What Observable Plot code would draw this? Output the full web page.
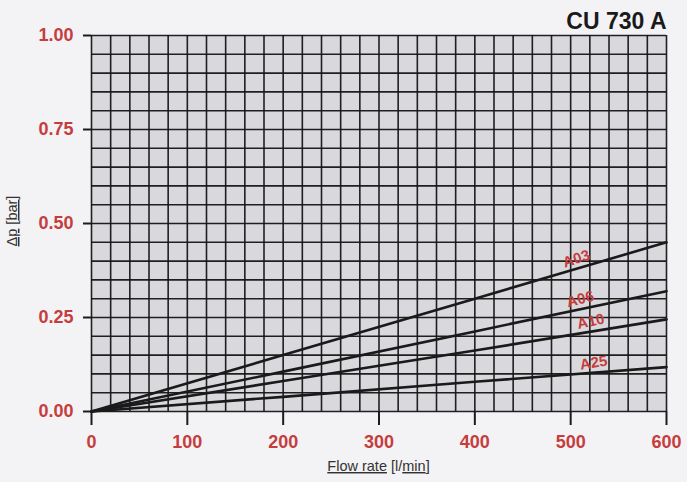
<!DOCTYPE html>
<html>
<head>
<meta charset="utf-8">
<script src="https://cdn.jsdelivr.net/npm/d3@7"></script>
<script src="https://cdn.jsdelivr.net/npm/@observablehq/plot@0.6"></script>
<style>
  html, body { margin: 0; padding: 0; background: #f3f2f5; }
  #chart svg { display: block; }
</style>
</head>
<body>
<div id="chart"></div>
<script>
// Pressure drop curves for the CU 730 A filter element series
const title = "CU 730 A";
const flow = [0, 200, 400, 600];               // l/min
const a03 = [0, 0.150, 0.300, 0.450];           // bar
const a06 = [0, 0.106, 0.213, 0.320];
const a10 = [0, 0.081, 0.162, 0.245];
const a25 = [0, 0.039, 0.079, 0.118];
const seriesNames = ["A03", "A06", "A10", "A25"];
const seriesValues = [a03, a06, a10, a25];
const labelFlow = [506, 510, 521, 524];         // where each curve is tagged
const labelAngle = [-18, -14, -12, -9];
const xTicks = [0, 100, 200, 300, 400, 500, 600];
const yTicks = [0, 0.25, 0.5, 0.75, 1.0];

const red = "#c53d3d";

const rows = seriesNames.flatMap((name, i) =>
  flow.map((q, j) => ({series: name, flow: q, dp: seriesValues[i][j]}))
);
const tags = seriesNames.map((name, i) => {
  const v = seriesValues[i];
  return {series: name, flow: labelFlow[i], dp: v[v.length - 1] * labelFlow[i] / flow[flow.length - 1], angle: labelAngle[i]};
});

const plot = Plot.plot({
  width: 687,
  height: 482,
  marginLeft: 91,
  marginRight: 21,
  marginTop: 35,
  marginBottom: 71,
  style: {background: "#f3f2f5", fontFamily: "'Liberation Sans', Arial, sans-serif"},
  x: {domain: [0, 600]},
  y: {domain: [0, 1]},
  marks: [
    Plot.frame({fill: "#d9d8dd", stroke: "none"}),
    Plot.gridX(d3.range(0, 601, 20), {stroke: "#151515", strokeOpacity: 0.95, strokeWidth: 1.6}),
    Plot.gridY(d3.range(0, 1.0001, 0.05), {stroke: "#151515", strokeOpacity: 0.95, strokeWidth: 1.6}),
    Plot.axisX(xTicks, {
      tickSize: 14, strokeWidth: 2, stroke: "#1c1c1c", tickPadding: 10,
      fontSize: 18, fontWeight: "bold", fill: red, label: null
    }),
    Plot.axisY(yTicks, {
      tickSize: 8, strokeWidth: 2, stroke: "#1c1c1c", tickPadding: 10,
      tickFormat: d3.format(".2f"),
      fontSize: 18, fontWeight: "bold", fill: red, label: null
    }),
    Plot.line(rows, {x: "flow", y: "dp", z: "series", stroke: "#1a1a1a", strokeWidth: 2.6}),
    Plot.text(tags, {
      x: "flow", y: "dp", text: "series", rotate: "angle", dy: -10,
      fill: red, fontSize: 15, fontWeight: "bold"
    }),
    Plot.text([title], {
      frameAnchor: "top-right", dy: -7, lineAnchor: "bottom", textAnchor: "end",
      fontSize: 23, fontWeight: "bold", fill: "#1a1a1a",
      fontFamily: "'Liberation Sans Narrow', 'Liberation Sans', Arial, sans-serif",
      letterSpacing: "1px"
    })
  ]
});

// Axis titles with underlined unit parts
const svg = d3.select(plot);
const xl = svg.append("text")
  .attr("x", 378.5).attr("y", 471)
  .attr("text-anchor", "middle")
  .attr("font-size", 14.5).attr("fill", "#333")
  .attr("font-family", "'Liberation Sans', Arial, sans-serif");
xl.append("tspan").attr("text-decoration", "underline").text("Flow rate");
xl.append("tspan").text(" [l/");
xl.append("tspan").attr("text-decoration", "underline").text("min");
xl.append("tspan").text("]");

const yl = svg.append("text")
  .attr("transform", "translate(17,221) rotate(-90)")
  .attr("text-anchor", "middle")
  .attr("font-size", 14.5).attr("fill", "#333")
  .attr("font-family", "'Liberation Sans', Arial, sans-serif");
yl.append("tspan").attr("text-decoration", "underline").text("Δp");
yl.append("tspan").text(" [");
yl.append("tspan").attr("text-decoration", "underline").text("bar");
yl.append("tspan").text("]");

document.getElementById("chart").append(plot);
</script>
</body>
</html>
